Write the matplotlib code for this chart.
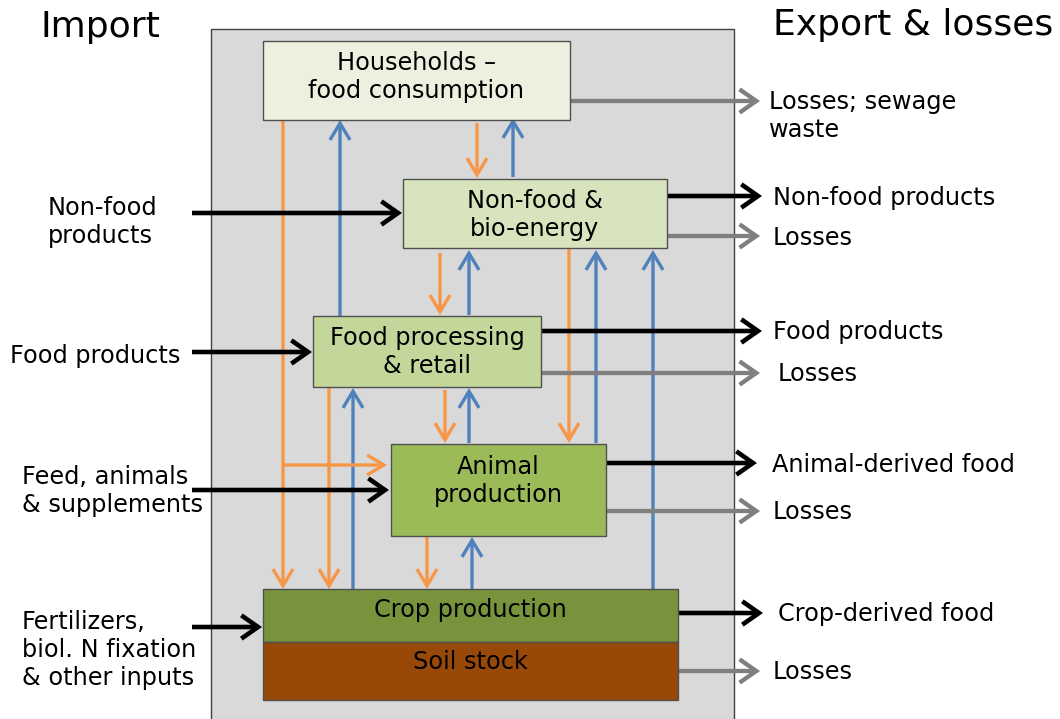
import matplotlib.pyplot as plt
from matplotlib.patches import Rectangle

# box labels and colours
box_names = ['Households –\nfood consumption', 'Non-food &\nbio-energy',
             'Food processing\n& retail', 'Animal\nproduction',
             'Crop production', 'Soil stock']
box_colors = ['#ebf1de', '#d7e4bd', '#c4d79b', '#9bbb59', '#77933c', '#984807']
# x0, y0, x1, y1 in pixel coords (y down)
box_xy = [(263, 41, 570, 120), (403, 179, 667, 248), (313, 316, 541, 387),
          (391, 444, 606, 536), (263, 589, 678, 642), (263, 642, 678, 700)]
box_text_y = [77, 215, 352, 481, 610, 662]

import_labels = ['Non-food\nproducts', 'Food products', 'Feed, animals\n& supplements',
                 'Fertilizers,\nbiol. N fixation\n& other inputs']
import_label_xy = [(48, 222), (10, 356), (22, 491), (22, 650)]
import_arrows = [(192, 402, 213), (192, 312, 352), (192, 389, 490), (192, 262, 627)]

export_labels = ['Losses; sewage\nwaste', 'Non-food products', 'Losses', 'Food products',
                 'Losses', 'Animal-derived food', 'Losses', 'Crop-derived food', 'Losses']
export_kind = ['loss', 'prod', 'loss', 'prod', 'loss', 'prod', 'loss', 'prod', 'loss']
export_label_xy = [(769, 116), (773, 198), (773, 238), (773, 332), (778, 374),
                   (772, 465), (773, 512), (778, 614), (773, 672)]
export_arrows = [(570, 760, 101), (667, 762, 196), (667, 760, 236), (541, 762, 331),
                 (541, 760, 373), (606, 757, 463), (606, 760, 511), (678, 763, 613),
                 (678, 760, 671)]

# internal flows: x, y_start, y_end
orange_flows = [(283, 120, 589), (329, 387, 589), (477, 123, 178), (440, 253, 315),
                (445, 390, 443), (569, 248, 443), (427, 536, 589)]
blue_flows = [(340, 316, 120), (513, 177, 118), (469, 315, 250), (353, 589, 388),
              (469, 443, 388), (596, 443, 250), (653, 589, 250), (472, 589, 537)]
orange_branch = (283, 387, 465)

ORANGE = '#f79646'
BLUE = '#4f81bd'
GREY = '#7f7f7f'
FS = 17.3

fig = plt.figure(figsize=(10.6, 7.19), dpi=100)
ax = fig.add_axes([0, 0, 1, 1])
ax.set_xlim(0, 1060)
ax.set_ylim(719, 0)
ax.axis('off')

# grey system boundary
ax.add_patch(Rectangle((211, 29), 734 - 211, 719 - 29 + 5, facecolor='#d9d9d9',
                       edgecolor='#404040', lw=1.0, zorder=0))


def arrow(x0, y0, x1, y1, color, lw, hl=0.5, hw=0.35, z=2):
    ax.annotate('', xy=(x1, y1), xytext=(x0, y0),
                arrowprops=dict(arrowstyle='->,head_length=%s,head_width=%s' % (hl, hw),
                                color=color, lw=lw, mutation_scale=20,
                                shrinkA=0, shrinkB=0, capstyle='butt',
                                joinstyle='miter'), zorder=z)


# vertical flows
for x, ya, yb in orange_flows:
    arrow(x, ya, x, yb, ORANGE, 2.4, hl=0.6, hw=0.36)
for x, ya, yb in blue_flows:
    arrow(x, ya, x, yb, BLUE, 2.4, hl=0.6, hw=0.36)
arrow(orange_branch[0], orange_branch[2], orange_branch[1], orange_branch[2], ORANGE, 2.4,
      hl=0.6, hw=0.36)

# boxes
for (x0, y0, x1, y1), c in zip(box_xy, box_colors):
    ax.add_patch(Rectangle((x0, y0), x1 - x0, y1 - y0, facecolor=c,
                           edgecolor='#505050', lw=1.0, zorder=3))
for (x0, y0, x1, y1), name, ty in zip(box_xy, box_names, box_text_y):
    ax.text((x0 + x1) / 2, ty, name, ha='center', va='center', fontsize=FS,
            linespacing=1.2, zorder=4)

# imports
for lab, (tx, ty) in zip(import_labels, import_label_xy):
    ax.text(tx, ty, lab, ha='left', va='center', fontsize=FS, linespacing=1.2)
for x0, x1, y in import_arrows:
    arrow(x0, y, x1, y, 'black', 3.3, hl=0.6, hw=0.42)

# exports & losses
for lab, (tx, ty) in zip(export_labels, export_label_xy):
    ax.text(tx, ty, lab, ha='left', va='center', fontsize=FS, linespacing=1.2)
for (x0, x1, y), kind in zip(export_arrows, export_kind):
    if kind == 'prod':
        arrow(x0, y, x1, y, 'black', 3.3, hl=0.6, hw=0.42)
    else:
        arrow(x0, y, x1, y, GREY, 3.1, hl=0.6, hw=0.42)

ax.text(40, 27, 'Import', ha='left', va='center', fontsize=26)
ax.text(773, 25, 'Export & losses', ha='left', va='center', fontsize=26)

fig.savefig('out.png', dpi=100)
